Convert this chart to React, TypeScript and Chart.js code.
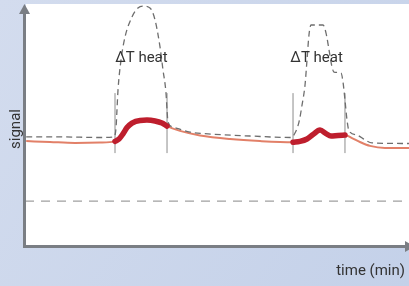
import React, { useEffect, useRef } from "react";
import { Chart, registerables } from "chart.js";

Chart.register(...registerables);

// x in minutes (0..64), y in arbitrary signal units (0..81)
const baselineX = [0.2, 4.17, 8.33, 12.5, 15, 15.67, 16.33, 17, 17.83, 19.17, 20.33, 21.67, 22.83, 23.67, 25.83, 29.17, 34.17, 39.17, 44.67, 45.83, 47, 48, 49.17, 50.17, 51, 52.17, 53.33, 54.5, 55.83, 57.5, 60, 64];
const baselineY = [35.3, 35, 34.7, 34.8, 35.2, 36, 37.7, 39.8, 41.3, 42.2, 42.3, 42, 41.3, 40.3, 38.7, 37.2, 36, 35.3, 34.9, 35.2, 36, 37.5, 39, 37.8, 37, 37.2, 37.3, 36.3, 35, 33.7, 33, 33];

const heat1X = [15, 15.67, 16.33, 17, 17.83, 19.17, 20.33, 21.67, 22.83, 23.67];
const heat1Y = [35.2, 36, 37.7, 39.8, 41.3, 42.2, 42.3, 42, 41.3, 40.3];
const heat2X = [44.67, 45.83, 47, 48, 49.17, 50.17, 51, 52.17, 53.33];
const heat2Y = [34.9, 35.2, 36, 37.5, 39, 37.8, 37, 37.2, 37.3];

const refX = [0.2, 5.83, 12.5, 14.83, 15.17, 15.33, 15.5, 16, 16.67, 17.83, 18.83, 19.67, 20.83, 21.67, 22.5, 23, 23.5, 23.67, 23.83, 24.67, 27.5, 30.5, 37.5, 44.33, 45, 45.67, 46.17, 46.67, 47, 47.33, 47.67, 49.67, 50.17, 50.67, 51.17, 51.5, 52.67, 53, 53.33, 53.67, 54, 55.33, 56.67, 57.83, 64];
const refY = [36.7, 36.7, 36.5, 36.7, 39.7, 45.7, 52.3, 62.3, 70, 76.7, 79.7, 80.3, 79.7, 75.7, 66.7, 59, 51.3, 45.7, 41.7, 40, 38.3, 37.7, 37, 36.5, 38, 41.7, 47.3, 54, 62.3, 70.7, 74, 74, 71.3, 65.7, 60, 58.3, 58, 55, 49, 42.3, 38.7, 37.3, 35.7, 34.7, 34.5];

const markerX = [15, 23.67, 44.67, 53.33];
const markerLow = 31.3;
const markerHigh = 51.3;
const zeroLineY = 15.3;

const labelText = ["ΔT heat", "ΔT heat"];
const labelX = [19.4, 48.6];
const labelY = [63, 63];

const yTitle = "signal";
const xTitle = "time (min)";

const X_MAX = 64;
const Y_MAX = 81;

const toPts = (xs: number[], ys: number[]) => xs.map((x, i) => ({ x, y: ys[i] }));

export default function App() {
  const ref = useRef<HTMLCanvasElement | null>(null);
  useEffect(() => {
    if (!ref.current) return;
    const font = "Roboto, 'Liberation Sans', sans-serif";
    const axisColor = "rgb(122,126,132)";
    const plugin = {
      id: "deco",
      beforeDraw(chart: any) {
        const { ctx, width, height, chartArea } = chart;
        ctx.save();
        const g = ctx.createLinearGradient(0, 0, width, height);
        g.addColorStop(0, "rgb(211,220,238)");
        g.addColorStop(1, "rgb(196,209,233)");
        ctx.fillStyle = g;
        ctx.fillRect(0, 0, width, height);
        ctx.fillStyle = "#ffffff";
        ctx.fillRect(chartArea.left + 1, chartArea.top, chartArea.right - chartArea.left - 1, chartArea.bottom - chartArea.top - 1);
        ctx.restore();
      },
      afterDraw(chart: any) {
        const { ctx, chartArea, scales } = chart;
        const xs = scales.x;
        const ys = scales.y;
        ctx.save();
        ctx.strokeStyle = axisColor;
        ctx.fillStyle = axisColor;
        ctx.lineWidth = 3;
        const ax = chartArea.left - 0.5;
        const ay = chartArea.bottom - 0.5;
        ctx.beginPath();
        ctx.moveTo(ax, ay + 1.5);
        ctx.lineTo(ax, chartArea.top + 8);
        ctx.moveTo(ax - 1.5, ay);
        ctx.lineTo(chartArea.right - 3, ay);
        ctx.stroke();
        // arrow heads
        ctx.beginPath();
        ctx.moveTo(ax, chartArea.top);
        ctx.lineTo(ax - 5.5, chartArea.top + 10);
        ctx.lineTo(ax + 5.5, chartArea.top + 10);
        ctx.closePath();
        ctx.fill();
        ctx.beginPath();
        ctx.moveTo(chartArea.right + 6, ay);
        ctx.lineTo(chartArea.right - 4, ay - 5.5);
        ctx.lineTo(chartArea.right - 4, ay + 5.5);
        ctx.closePath();
        ctx.fill();
        // labels
        ctx.fillStyle = "#333333";
        ctx.font = `15px ${font}`;
        ctx.textAlign = "center";
        ctx.textBaseline = "middle";
        labelText.forEach((t, i) => {
          ctx.fillText(t, xs.getPixelForValue(labelX[i]), ys.getPixelForValue(labelY[i]));
        });
        ctx.textAlign = "right";
        ctx.fillText(xTitle, chartArea.right - 4, 271);
        ctx.translate(16, 129);
        ctx.rotate(-Math.PI / 2);
        ctx.textAlign = "center";
        ctx.fillText(yTitle, 0, 0);
        ctx.restore();
      },
    };

    const markerSets = markerX.map((mx) => ({
      data: [{ x: mx, y: markerLow }, { x: mx, y: markerHigh }],
      borderColor: "rgb(140,140,140)",
      borderWidth: 1,
      pointRadius: 0,
      tension: 0,
      order: 4,
    }));

    const chart = new Chart(ref.current, {
      type: "line",
      data: {
        datasets: [
          {
            data: [{ x: 0, y: zeroLineY }, { x: X_MAX, y: zeroLineY }],
            borderColor: "rgb(160,160,160)",
            borderWidth: 1.2,
            borderDash: [9, 7],
            pointRadius: 0,
            order: 5,
          },
          ...markerSets,
          {
            data: toPts(baselineX, baselineY),
            borderColor: "rgb(226,128,104)",
            borderWidth: 2,
            pointRadius: 0,
            cubicInterpolationMode: "monotone",
            order: 3,
          },
          {
            data: toPts(refX, refY),
            borderColor: "rgb(110,110,110)",
            borderWidth: 1.3,
            borderDash: [6, 4],
            pointRadius: 0,
            cubicInterpolationMode: "monotone",
            order: 2,
          },
          {
            data: toPts(heat1X, heat1Y),
            borderColor: "rgb(190,30,45)",
            borderWidth: 5.5,
            borderCapStyle: "round",
            pointRadius: 0,
            cubicInterpolationMode: "monotone",
            order: 1,
          },
          {
            data: toPts(heat2X, heat2Y),
            borderColor: "rgb(190,30,45)",
            borderWidth: 5.5,
            borderCapStyle: "round",
            pointRadius: 0,
            cubicInterpolationMode: "monotone",
            order: 0,
          },
        ] as any,
      },
      options: {
        responsive: false,
        animation: false,
        layout: { padding: { left: 25, right: 0, top: 4, bottom: 39 } },
        plugins: { legend: { display: false }, tooltip: { enabled: false } },
        scales: {
          x: { type: "linear", min: 0, max: X_MAX, display: false },
          y: { type: "linear", min: 0, max: Y_MAX, display: false },
        },
      },
      plugins: [plugin],
    });
    return () => chart.destroy();
  }, []);
  return (
    <div style={{ position: "fixed", left: 0, top: 0, width: 409, height: 286 }}>
      <canvas ref={ref} width={409} height={286} style={{ display: "block" }} />
    </div>
  );
}
